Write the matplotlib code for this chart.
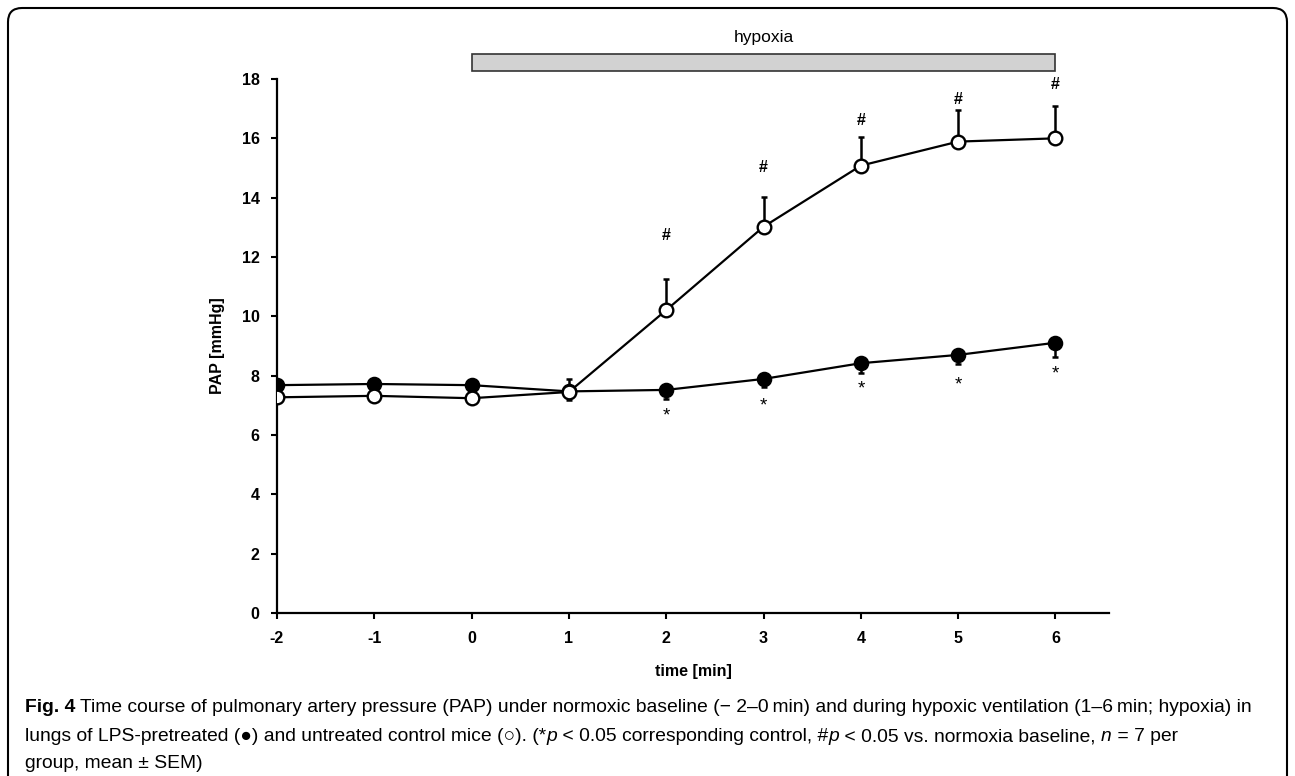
import matplotlib
matplotlib.use("Agg")
import matplotlib.pyplot as plt
import matplotlib.patches as mpatches
from matplotlib import font_manager

# data
time_min = [-2, -1, 0, 1, 2, 3, 4, 5, 6]
control_mean = [7.27, 7.32, 7.24, 7.45, 10.21, 13.02, 15.08, 15.89, 16.00]
control_sem = [0.12, 0.12, 0.12, 0.45, 1.05, 1.00, 0.97, 1.06, 1.10]
lps_mean = [7.68, 7.72, 7.68, 7.47, 7.52, 7.89, 8.42, 8.70, 9.11]
lps_sem = [0.10, 0.10, 0.10, 0.30, 0.32, 0.28, 0.34, 0.32, 0.47]

hash_time = [2, 3, 4, 5, 6]
hash_y = [12.74, 15.0, 16.6, 17.3, 17.83]
star_time = [2, 3, 4, 5, 6]
star_y = [6.64, 6.98, 7.55, 7.68, 8.05]

hypoxia_start = 0
hypoxia_end = 6


def pick_font(names, default):
    for n in names:
        try:
            font_manager.findfont(n, fallback_to_default=False)
            return n
        except Exception:
            pass
    return default


narrow = pick_font(["Liberation Sans Narrow", "Arial Narrow"], "Liberation Sans")
plt.rcParams["font.family"] = ["Liberation Sans", "DejaVu Sans"]
plt.rcParams["axes.unicode_minus"] = False

W, H, DPI = 1295, 776, 100
fig = plt.figure(figsize=(W / DPI, H / DPI), dpi=DPI)
ax = fig.add_axes([277 / W, 1 - 613 / H, (1109 - 277) / W, (613 - 79) / H])

ax.plot(time_min, control_mean, color="black", lw=1.6, zorder=3)
ax.plot(time_min, lps_mean, color="black", lw=1.6, zorder=3)
ax.errorbar(time_min, control_mean, yerr=[[0] * len(control_sem), control_sem],
            fmt="none", ecolor="black", elinewidth=1.8, capsize=2.2, capthick=1.8, zorder=2)
ax.errorbar(time_min, lps_mean, yerr=[lps_sem, [0] * len(lps_sem)],
            fmt="none", ecolor="black", elinewidth=1.8, capsize=2.2, capthick=1.8, zorder=2)
ax.plot(time_min, lps_mean, "o", ms=9.8, mfc="black", mec="black", mew=1.4, zorder=4)
ax.plot(time_min, control_mean, "o", ms=9.8, mfc="white", mec="black", mew=1.7, zorder=5)

for t, y in zip(hash_time, hash_y):
    ax.text(t, y, "#", ha="center", va="center", fontsize=11.5, fontweight="bold")
for t, y in zip(star_time, star_y):
    ax.text(t, y, "*", ha="center", va="center", fontsize=13.5)

# hypoxia bar
ax.add_patch(mpatches.Rectangle((hypoxia_start, 18.28), hypoxia_end - hypoxia_start, 0.56,
                                facecolor="#d2d2d2", edgecolor="#333333", lw=1.2, clip_on=False))
ax.text((hypoxia_start + hypoxia_end) / 2, 19.4, "hypoxia", ha="center", va="center",
        fontsize=12.5, family=[narrow, "DejaVu Sans"])

ax.set_xlim(-2, 6.55)
ax.set_ylim(0, 18)
ax.set_xticks(time_min)
ax.set_yticks(range(0, 19, 2))
for s in ["top", "right"]:
    ax.spines[s].set_visible(False)
for s in ["left", "bottom"]:
    ax.spines[s].set_linewidth(1.6)
ax.tick_params(axis="both", direction="out", length=4.5, width=1.5, labelsize=11.5)
ax.tick_params(axis="y", pad=8)
ax.tick_params(axis="x", pad=8.5)
for lab in ax.get_xticklabels() + ax.get_yticklabels():
    lab.set_fontweight("bold")
ax.set_xlabel("time [min]", fontsize=11.5, fontweight="bold", labelpad=13)
ax.set_ylabel("PAP [mmHg]", fontsize=11.5, fontweight="bold", labelpad=12)

# frame round the figure
frame = mpatches.FancyBboxPatch((8, -30), W - 16, H - 8 + 30, boxstyle="round,pad=0,rounding_size=14",
                                transform=None, fill=False, lw=1.5, edgecolor="black")
fig.add_artist(frame)

# caption, drawn run by run
renderer = fig.canvas.get_renderer()
cap_size = 13.9


def draw_runs(x, y, runs):
    for txt, style in runs:
        kw = dict(fontsize=cap_size, family=[narrow, "DejaVu Sans"], va="baseline", ha="left")
        kw.update(style)
        t = fig.text(x / W, 1 - y / H, txt, **kw)
        x += t.get_window_extent(renderer).width


it = {"style": "italic"}
draw_runs(25, 712, [("Fig. 4", {"fontweight": "bold"}),
                    (" Time course of pulmonary artery pressure (PAP) under normoxic baseline (\u2212 2\u20130\u2009min) "
                     "and during hypoxic ventilation (1\u20136\u2009min; hypoxia) in", {})])
draw_runs(25, 741, [("lungs of LPS-pretreated (\u25cf) and untreated control mice (\u25cb). (*", {}),
                    ("p", it), (" < 0.05 corresponding control, #", {}), ("p", it),
                    (" < 0.05 vs. normoxia baseline, ", {}), ("n", it), (" = 7 per", {})])
draw_runs(25, 768, [("group, mean \u00b1 SEM)", {})])

fig.savefig("out.png", dpi=DPI)
